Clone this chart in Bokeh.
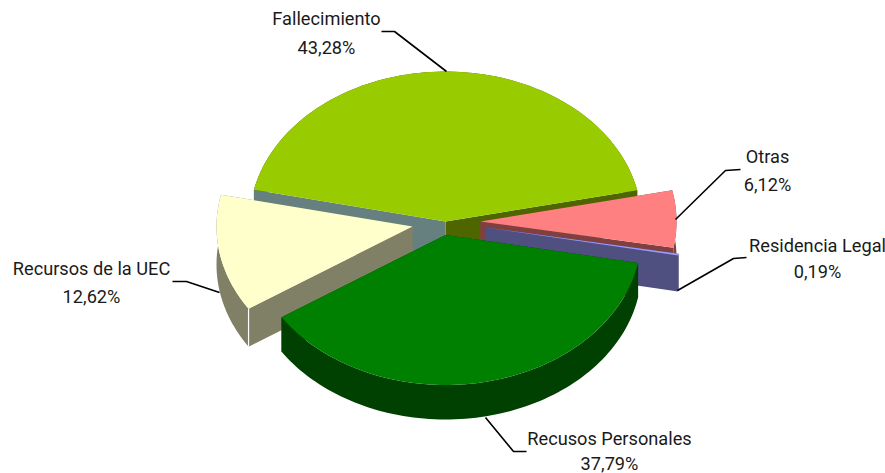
import numpy as np
from bokeh.plotting import figure
from bokeh.models import Range1d
from bokeh.embed import file_html
from bokeh.resources import INLINE
from bokeh.core.properties import value

# Data
categories = ["Fallecimiento", "Otras", "Residencia Legal", "Recusos Personales", "Recursos de la UEC"]
shares = [43.28, 6.12, 0.19, 37.79, 12.62]
pct_labels = ["43,28%", "6,12%", "0,19%", "37,79%", "12,62%"]
top_colors = ["#99CC00", "#FF8080", "#9999FF", "#008000", "#FFFFCC"]
wall_colors = ["#4F6600", "#804040", "#4F4F80", "#004000", "#808066"]
left_wall_colors = ["#668080", "#804040", "#4F4F80", "#004000", "#808066"]
apex_x = [445, 480, 485, 445, 412]
apex_y = [221, 221, 227, 234.5, 226]
depths = [35, 36, 36, 34.5, 38]
draw_order = [0, 1, 2, 4, 3]

# Layout
RX, RY = 196, 150
START_DEG = 167.8
W, H = 885, 473
label_x = [326, 767, 817, 609, 91]
label_y = [18, 156, 245, 438, 268]
pct_x = [326, 767, 817, 609, 91]
pct_y = [47, 184, 271, 463, 296]
leader_x = [[381, 394, 446], [740, 725, 675], [746, 733, 677], [526, 513, 485], [172, 186, 219]]
leader_y = [[31, 31, 71], [169, 170, 219], [257, 258, 290], [451, 451, 417], [281, 281, 292]]

p = figure(width=W, height=H, output_backend="svg", toolbar_location=None,
           x_range=Range1d(0, W), y_range=Range1d(H, 0),
           min_border=0, outline_line_color=None, x_axis_location=None, y_axis_location=None)
p.grid.visible = False


def arc(cx, cy, a0, a1, n=90):
    t = np.radians(np.linspace(a0, a1, n))
    return cx + RX * np.cos(t), cy - RY * np.sin(t)


# angular extents, clockwise from the start angle
ends = START_DEG - np.cumsum(shares) * 3.6
starts = np.concatenate([[START_DEG], ends[:-1]])

for i in draw_order:
    c = categories[i]
    cx, cy, d = apex_x[i], apex_y[i], depths[i]
    ax, ay = arc(cx, cy, starts[i], ends[i])
    # walls: rim and the two cut faces
    p.patch(np.concatenate([ax, ax[::-1]]), np.concatenate([ay, ay[::-1] + d]),
            fill_color=wall_colors[i], line_color=None)
    p.patch([cx, ax[-1], ax[-1], cx], [cy, ay[-1], ay[-1] + d, cy + d],
            fill_color=wall_colors[i], line_color=None)
    p.patch([cx, ax[0], ax[0], cx], [cy, ay[0], ay[0] + d, cy + d],
            fill_color=left_wall_colors[i], line_color=None)
    if c == "Recursos de la UEC":
        p.line([ax[0], ax[0]], [ay[0], ay[0] + d], line_color="#FFFFFF", line_width=1.2)
    # top face
    p.patch(np.concatenate([[cx], ax]), np.concatenate([[cy], ay]),
            fill_color=top_colors[i], line_color=None)

for lx, ly in zip(leader_x, leader_y):
    p.line(lx, ly, line_color="#000000", line_width=1.6)

for i, c in enumerate(categories):
    p.text([label_x[i]], [label_y[i]], text=[c], text_align="center", text_baseline="middle",
           text_font=value("Roboto"), text_font_size="18.2px", text_color="#1a1a1a")
    p.text([pct_x[i]], [pct_y[i]], text=[pct_labels[i]], text_align="center", text_baseline="middle",
           text_font=value("Roboto"), text_font_size="18.2px", text_color="#1a1a1a")

open("out.html", "w").write(file_html(p, INLINE))
